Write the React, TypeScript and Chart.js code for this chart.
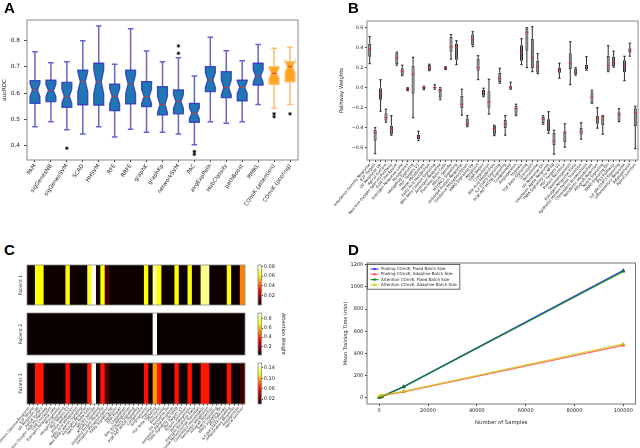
import React, { useEffect, useRef } from 'react';
import { Chart, registerables } from 'chart.js';

Chart.register(...registerables);

const FONT = '"DejaVu Sans", "Noto Sans", sans-serif';

// ================= Panel A : aucROC box plots =================
const aMethods = ['PAM', 'sigGenesNB', 'sigGenesSVM', 'SCAD', 'HHSVM', 'RFE', 'RRFE', 'graphK', 'graphKp', 'networkSVM', 'PAC', 'avgExpPath', 'HubClassify', 'pathBoost', 'PIMKL', 'COmiK (attention)', 'COmiK (pooling)'];
const aLow = [0.472, 0.491, 0.460, 0.444, 0.472, 0.433, 0.462, 0.451, 0.451, 0.444, 0.403, 0.491, 0.485, 0.491, 0.557, 0.542, 0.557];
const aQ1 = [0.561, 0.568, 0.546, 0.555, 0.554, 0.533, 0.559, 0.549, 0.517, 0.521, 0.489, 0.606, 0.583, 0.571, 0.631, 0.634, 0.643];
const aMed = [0.612, 0.610, 0.588, 0.644, 0.643, 0.588, 0.635, 0.587, 0.557, 0.568, 0.523, 0.650, 0.621, 0.622, 0.665, 0.676, 0.701];
const aQ3 = [0.648, 0.650, 0.641, 0.688, 0.714, 0.634, 0.688, 0.644, 0.625, 0.612, 0.561, 0.701, 0.682, 0.650, 0.714, 0.701, 0.720];
const aHigh = [0.758, 0.716, 0.720, 0.800, 0.856, 0.710, 0.846, 0.761, 0.720, 0.735, 0.665, 0.813, 0.762, 0.724, 0.786, 0.771, 0.775];
const aOutlierMethods = ['sigGenesSVM', 'networkSVM', 'networkSVM', 'PAC', 'PAC', 'COmiK (attention)', 'COmiK (attention)', 'COmiK (pooling)'];
const aOutlierValues = [0.390, 0.780, 0.752, 0.377, 0.367, 0.521, 0.510, 0.521];
const aYTicks = [0.4, 0.5, 0.6, 0.7, 0.8];
const aSampleN = 30;

// ================= Panel B : pathway weights =================
const bPathways = ['Interferon Gamma Response', 'E2F Targets', 'UV Response Up', 'Apical Surface', 'Reactive Oxygen Species Pathway', 'G2M Checkpoint', 'Estrogen Response Late', 'Myogenesis', 'Hedgehog Signaling', 'Myc Targets V1', 'Heme Metabolism', 'Fatty Acid Metabolism', 'Wnt Beta Catenin Signaling', 'Androgen Response', 'Pancreas Beta Cells', 'Mitotic Spindle', 'MTORC1 Signaling', 'Unfolded Protein Response', 'Oxidative Phosphorylation', 'KRAS Signaling Up', 'Apoptosis', 'DNA Repair', 'Coagulation', 'Bile Acid Metabolism', 'IL2 STAT5 Signaling', 'PI3K AKT MTOR Signaling', 'Complement', 'Angiogenesis', 'Hypoxia', 'TGF Beta Signaling', 'Glycolysis', 'Peroxisome', 'UV Response Dn', 'Interferon Alpha Response', 'TNFA Signaling via NFKB', 'Myc Targets V2', 'Protein Secretion', 'Spermatogenesis', 'Estrogen Response Early', 'Epithelial Mesenchymal Transition', 'Cholesterol Homeostasis', 'Xenobiotic Metabolism', 'Allograft Rejection', 'Notch Signaling', 'KRAS Signaling Dn', 'P53 Pathway', 'IL6 JAK STAT3 Signaling', 'Inflammatory Response', 'Adipogenesis', 'Apical Junction'];
const bLow = [0.24, -0.66, -0.235, -0.345, -0.475, 0.225, 0.12, -0.03, -0.30, -0.53, -0.02, 0.17, -0.015, -0.12, 0.18, 0.285, 0.23, -0.275, -0.39, 0.41, 0.08, -0.09, -0.265, -0.48, 0.045, -0.475, -0.015, -0.28, 0.23, 0.20, 0.16, 0.14, -0.365, -0.455, -0.665, 0.095, -0.595, 0.03, 0.125, -0.515, 0.175, -0.155, -0.405, -0.465, 0.16, 0.205, -0.34, 0.07, 0.315, -0.61];
const bQ1 = [0.31, -0.53, -0.12, -0.33, -0.465, 0.235, 0.13, -0.025, -0.06, -0.515, -0.015, 0.175, -0.005, -0.10, 0.185, 0.36, 0.28, -0.205, -0.38, 0.425, 0.17, -0.08, -0.20, -0.47, 0.055, -0.405, -0.01, -0.27, 0.27, 0.37, 0.195, 0.15, -0.355, -0.435, -0.575, 0.15, -0.545, 0.185, 0.135, -0.47, 0.185, -0.15, -0.36, -0.375, 0.17, 0.215, -0.33, 0.155, 0.35, -0.385];
const bMed = [0.385, -0.45, -0.055, -0.30, -0.41, 0.30, 0.165, -0.013, 0.135, -0.49, 0.0, 0.205, 0.003, -0.03, 0.195, 0.41, 0.40, -0.165, -0.365, 0.48, 0.20, -0.045, -0.145, -0.41, 0.09, -0.36, 0.005, -0.21, 0.35, 0.555, 0.30, 0.21, -0.315, -0.365, -0.535, 0.175, -0.45, 0.245, 0.155, -0.44, 0.21, -0.095, -0.31, -0.29, 0.22, 0.25, -0.27, 0.22, 0.375, -0.25];
const bQ3 = [0.44, -0.42, 0.0, -0.255, -0.38, 0.345, 0.195, -0.005, 0.22, -0.47, 0.01, 0.23, 0.01, -0.01, 0.205, 0.51, 0.44, -0.08, -0.305, 0.535, 0.29, -0.02, -0.035, -0.38, 0.15, -0.32, 0.015, -0.18, 0.425, 0.595, 0.49, 0.27, -0.29, -0.315, -0.45, 0.20, -0.435, 0.345, 0.19, -0.40, 0.23, -0.045, -0.28, -0.285, 0.32, 0.31, -0.245, 0.275, 0.395, -0.205];
const bHigh = [0.51, -0.40, 0.08, -0.215, -0.28, 0.355, 0.225, 0.0, 0.305, -0.435, 0.015, 0.235, 0.03, 0.0, 0.21, 0.53, 0.47, -0.015, -0.28, 0.56, 0.32, -0.005, 0.085, -0.375, 0.195, -0.28, 0.055, -0.165, 0.49, 0.60, 0.61, 0.34, -0.28, -0.24, -0.425, 0.245, -0.36, 0.46, 0.20, -0.35, 0.31, -0.025, -0.20, -0.28, 0.42, 0.365, -0.21, 0.315, 0.445, -0.185];
const bYTicks = [-0.6, -0.4, -0.2, 0.0, 0.2, 0.4, 0.6];

// ================= Panel C : attention heatmaps =================
const cPathways = bPathways;
const cPatient1 = [0.001, 0.001, 0.063, 0.063, 0.001, 0.001, 0.001, 0.001, 0.001, 0.062, 0.001, 0.001, 0.001, 0.001, 0.065, 0.083, 0.001, 0.063, 0.008, 0.001, 0.001, 0.001, 0.001, 0.001, 0.001, 0.001, 0.001, 0.062, 0.001, 0.074, 0.063, 0.001, 0.001, 0.001, 0.062, 0.001, 0.001, 0.063, 0.001, 0.001, 0.073, 0.074, 0.001, 0.001, 0.001, 0.001, 0.063, 0.001, 0.001, 0.047];
const cPatient2 = [0.002, 0.002, 0.002, 0.002, 0.002, 0.002, 0.002, 0.002, 0.002, 0.002, 0.002, 0.002, 0.002, 0.002, 0.002, 0.002, 0.002, 0.002, 0.002, 0.002, 0.002, 0.002, 0.002, 0.002, 0.002, 0.002, 0.002, 0.002, 0.002, 0.93, 0.002, 0.002, 0.002, 0.002, 0.002, 0.002, 0.002, 0.002, 0.002, 0.002, 0.002, 0.002, 0.002, 0.002, 0.002, 0.002, 0.002, 0.002, 0.002, 0.002];
const cPatient3 = [0.001, 0.001, 0.064, 0.064, 0.001, 0.001, 0.001, 0.001, 0.001, 0.062, 0.001, 0.001, 0.001, 0.001, 0.066, 0.159, 0.001, 0.063, 0.015, 0.001, 0.001, 0.001, 0.001, 0.001, 0.001, 0.001, 0.001, 0.063, 0.001, 0.095, 0.064, 0.001, 0.001, 0.001, 0.063, 0.001, 0.001, 0.063, 0.001, 0.001, 0.064, 0.064, 0.001, 0.001, 0.001, 0.001, 0.063, 0.001, 0.001, 0.012];
const cPatientNames = ['Patient 1', 'Patient 2', 'Patient 3'];
const cRange1 = [0.0005, 0.083];
const cRange2 = [0.01, 0.93];
const cRange3 = [0.001, 0.159];
const cTicks1 = [0.02, 0.04, 0.06, 0.08];
const cTicks2 = [0.2, 0.4, 0.6, 0.8];
const cTicks3 = [0.02, 0.06, 0.10, 0.14];

// ================= Panel D : training time =================
const dSamples = [100, 1000, 10000, 100000];
const dPoolFixed = [4, 12, 101, 1148];
const dPoolAdaptive = [6, 19, 55, 474];
const dAttFixed = [5, 11, 100, 1140];
const dAttAdaptive = [16, 24, 58, 486];
const dSeriesNames = ['Pooling COmiK, Fixed Batch Size', 'Pooling COmiK, Adaptive Batch Size', 'Attention COmiK, Fixed Batch Size', 'Attention COmiK, Adaptive Batch Size'];
const dXTicks = [0, 20000, 40000, 60000, 80000, 100000];
const dYTicks = [0, 200, 400, 600, 800, 1000, 1200];

// ---------- helpers ----------
function hot(t: number): string {
  const c = (v: number) => Math.max(0, Math.min(1, v));
  const x = c(t);
  const r = c(0.0416 + x * (1 - 0.0416) / 0.365);
  const g = c((x - 0.365) / (0.746 - 0.365));
  const b = c((x - 0.746) / (1 - 0.746));
  return `rgb(${Math.round(r * 255)},${Math.round(g * 255)},${Math.round(b * 255)})`;
}

function framePlugin(color: string, width = 1) {
  return {
    id: 'frame',
    afterDraw(chart: any) {
      const { ctx, chartArea } = chart;
      ctx.save();
      ctx.strokeStyle = color;
      ctx.lineWidth = width;
      ctx.strokeRect(chartArea.left, chartArea.top, chartArea.right - chartArea.left, chartArea.bottom - chartArea.top);
      ctx.restore();
    },
  };
}

type BoxStyle = { fill: string; edge: string; edgeWidth: number; whisker: string; whiskerWidth: number; median: string; medianWidth: number };

function boxPlugin(o: { low: number[]; q1: number[]; med: number[]; q3: number[]; high: number[]; widthFrac: number; capFrac: number; notchN: number; drawBox: boolean; style: (i: number) => BoxStyle }) {
  return {
    id: 'boxes',
    afterDatasetsDraw(chart: any) {
      const ctx = chart.ctx;
      const xs = chart.scales.x;
      const ys = chart.scales.y;
      const band = Math.abs(xs.getPixelForValue(1) - xs.getPixelForValue(0));
      const ca = chart.chartArea;
      ctx.save();
      ctx.beginPath();
      ctx.rect(ca.left, ca.top, ca.right - ca.left, ca.bottom - ca.top);
      ctx.clip();
      o.med.forEach((m, i) => {
        const s = o.style(i);
        const cx = xs.getPixelForValue(i);
        const hw = (band * o.widthFrac) / 2;
        const cw = (band * o.capFrac) / 2;
        const yLo = ys.getPixelForValue(o.low[i]);
        const yQ1 = ys.getPixelForValue(o.q1[i]);
        const yMed = ys.getPixelForValue(m);
        const yQ3 = ys.getPixelForValue(o.q3[i]);
        const yHi = ys.getPixelForValue(o.high[i]);
        ctx.lineCap = 'butt';
        ctx.strokeStyle = s.whisker;
        ctx.lineWidth = s.whiskerWidth;
        ctx.beginPath();
        ctx.moveTo(cx, yQ1); ctx.lineTo(cx, yLo);
        ctx.moveTo(cx, yQ3); ctx.lineTo(cx, yHi);
        ctx.moveTo(cx - cw, yLo); ctx.lineTo(cx + cw, yLo);
        ctx.moveTo(cx - cw, yHi); ctx.lineTo(cx + cw, yHi);
        ctx.stroke();
        let mw = hw;
        if (o.drawBox) {
          ctx.beginPath();
          if (o.notchN > 0) {
            const nh = (1.57 * (o.q3[i] - o.q1[i])) / Math.sqrt(o.notchN);
            const nLo = ys.getPixelForValue(m - nh);
            const nHi = ys.getPixelForValue(m + nh);
            mw = hw / 2;
            ctx.moveTo(cx - hw, yQ1); ctx.lineTo(cx + hw, yQ1); ctx.lineTo(cx + hw, nLo);
            ctx.lineTo(cx + mw, yMed); ctx.lineTo(cx + hw, nHi); ctx.lineTo(cx + hw, yQ3);
            ctx.lineTo(cx - hw, yQ3); ctx.lineTo(cx - hw, nHi); ctx.lineTo(cx - mw, yMed);
            ctx.lineTo(cx - hw, nLo); ctx.closePath();
          } else {
            ctx.rect(cx - hw, yQ3, 2 * hw, yQ1 - yQ3);
          }
          ctx.fillStyle = s.fill;
          ctx.fill();
          ctx.strokeStyle = s.edge;
          ctx.lineWidth = s.edgeWidth;
          ctx.stroke();
        }
        ctx.strokeStyle = s.median;
        ctx.lineWidth = s.medianWidth;
        ctx.beginPath();
        ctx.moveTo(cx - mw, yMed); ctx.lineTo(cx + mw, yMed);
        ctx.stroke();
      });
      ctx.restore();
    },
  };
}

const dLegendPlugin = {
  id: 'dlegend',
  afterDraw(chart: any) {
    const { ctx, chartArea } = chart;
    const left = chartArea.left + 0.5;
    const top = chartArea.top + 1.5;
    const rowH = 5.3;
    const fs = 4;
    ctx.save();
    ctx.font = `${fs}px ${FONT}`;
    const ds = chart.data.datasets;
    let maxW = 0;
    ds.forEach((d: any) => { maxW = Math.max(maxW, ctx.measureText(d.label).width); });
    const w = 13.5 + maxW + 3;
    const h = rowH * ds.length + 3.5;
    ctx.fillStyle = 'rgba(255,255,255,0.85)';
    ctx.fillRect(left, top, w, h);
    ctx.strokeStyle = '#444';
    ctx.lineWidth = 0.8;
    ctx.strokeRect(left, top, w, h);
    ds.forEach((d: any, i: number) => {
      const y = top + 4.5 + i * rowH;
      ctx.strokeStyle = d.borderColor;
      ctx.lineWidth = 1.2;
      ctx.beginPath();
      ctx.moveTo(left + 3, y); ctx.lineTo(left + 11, y);
      ctx.stroke();
      ctx.fillStyle = d.borderColor;
      ctx.beginPath();
      ctx.arc(left + 7, y, 1.3, 0, Math.PI * 2);
      ctx.fill();
      ctx.fillStyle = '#222';
      ctx.textBaseline = 'middle';
      ctx.textAlign = 'left';
      ctx.fillText(d.label, left + 13.5, y);
    });
    ctx.restore();
  },
};

const fixedTicks = (vals: number[]) => (s: any) => { s.ticks = vals.map((v) => ({ value: v })); };
const fmt = (d: number) => (v: any) => {
  const n = Number(v);
  const t = Math.abs(n).toFixed(d);
  return n < -1e-9 ? '\u2212' + t : t;
};

function heatmapConfig(values: number[], range: number[], name: string, showX: boolean) {
  const xScale: any = {
    display: showX,
    offset: true,
    grid: { display: true, drawOnChartArea: false, offset: false, tickLength: 1.5, color: '#444' },
    border: { display: false },
    ticks: { autoSkip: false, minRotation: 50, maxRotation: 50, padding: 0.5, font: { size: 3.6, family: FONT }, color: '#222' },
  };
  if (showX) {
    xScale.afterFit = (s: any) => { s.height = 44; s.paddingLeft = 0; s.paddingRight = 0; };
  }
  const colorOf = (c: any) => {
    const v = c.raw ? c.raw.v : 0;
    return hot((v - range[0]) / (range[1] - range[0]));
  };
  return {
    type: 'bar',
    data: {
      labels: cPathways,
      datasets: [{
        data: values.map((v, i) => ({ x: cPathways[i], y: 1, v })),
        backgroundColor: colorOf,
        borderWidth: 0,
        inflateAmount: 0.8,
        barPercentage: 1,
        categoryPercentage: 1,
      }],
    },
    options: {
      animation: false, responsive: false, events: [],
      layout: { padding: { left: 0, top: 5, right: 5, bottom: showX ? 0 : 5 } },
      plugins: { legend: { display: false }, tooltip: { enabled: false } },
      scales: {
        x: xScale,
        y: {
          min: 0, max: 1,
          ticks: { display: false },
          grid: { display: false },
          border: { display: false },
          title: { display: true, text: name, font: { size: 4.6, family: FONT }, color: '#222', padding: { top: 17.8, bottom: 0 } },
          afterFit: (s: any) => { s.width = 27; s.paddingTop = 0; s.paddingBottom = 0; },
        },
      },
    },
    plugins: [framePlugin('#888', 0.8)],
  };
}

function colorbarConfig(range: number[], ticks: number[], digits: number, title: string) {
  return {
    type: 'bar',
    data: {
      labels: [''],
      datasets: [{
        data: [[range[0], range[1]]],
        backgroundColor: (c: any) => {
          const ch = c.chart;
          const ca = ch.chartArea;
          if (!ca) return '#000';
          const g = ch.ctx.createLinearGradient(0, ca.bottom, 0, ca.top);
          [0, 0.365, 0.746, 1].forEach((t) => g.addColorStop(t, hot(t)));
          return g;
        },
        borderWidth: 0,
        borderSkipped: false,
        barPercentage: 1,
        categoryPercentage: 1,
      }],
    },
    options: {
      animation: false, responsive: false, events: [],
      layout: { padding: { left: 8, top: 5, right: 0, bottom: 5 } },
      plugins: { legend: { display: false }, tooltip: { enabled: false } },
      scales: {
        x: { display: false },
        y: {
          position: 'right',
          min: range[0], max: range[1],
          afterBuildTicks: fixedTicks(ticks),
          ticks: { callback: fmt(digits), padding: 0.8, font: { size: 5, family: FONT }, color: '#222' },
          grid: { display: true, drawOnChartArea: false, tickLength: 1.5, color: '#444' },
          border: { display: false },
          title: { display: title !== '', text: title, font: { size: 5, family: FONT }, color: '#222', padding: { top: 3.5, bottom: 0 } },
          afterFit: (s: any) => { s.width = 28.5; s.paddingTop = 0; s.paddingBottom = 0; },
        },
      },
    },
    plugins: [framePlugin('#888', 0.8)],
  };
}

export default function App() {
  const aRef = useRef<HTMLCanvasElement>(null);
  const bRef = useRef<HTMLCanvasElement>(null);
  const c1Ref = useRef<HTMLCanvasElement>(null);
  const c2Ref = useRef<HTMLCanvasElement>(null);
  const c3Ref = useRef<HTMLCanvasElement>(null);
  const cb1Ref = useRef<HTMLCanvasElement>(null);
  const cb2Ref = useRef<HTMLCanvasElement>(null);
  const cb3Ref = useRef<HTMLCanvasElement>(null);
  const dRef = useRef<HTMLCanvasElement>(null);

  useEffect(() => {
    Chart.defaults.font.family = FONT;
    Chart.defaults.color = '#222';
    const charts: any[] = [];

    // ---- A ----
    const aStyle = (i: number): BoxStyle => {
      const orange = aMethods[i].startsWith('COmiK');
      return orange
        ? { fill: '#ffa51f', edge: 'rgba(255,190,110,0.95)', edgeWidth: 1.3, whisker: 'rgba(255,180,90,0.9)', whiskerWidth: 1.5, median: '#b8452a', medianWidth: 1 }
        : { fill: '#1f77b4', edge: 'rgba(50,50,190,0.85)', edgeWidth: 1.3, whisker: 'rgba(50,50,195,0.75)', whiskerWidth: 1.5, median: '#b8452a', medianWidth: 1 };
    };
    charts.push(new Chart(aRef.current as any, {
      type: 'bar',
      data: {
        labels: aMethods,
        datasets: [{
          type: 'scatter',
          data: aOutlierMethods.map((m, i) => ({ x: m, y: aOutlierValues[i] })),
          pointStyle: 'star',
          radius: 1.8,
          borderWidth: 0.9,
          borderColor: '#111',
          backgroundColor: '#111',
        } as any],
      },
      options: {
        animation: false, responsive: false, events: [],
        layout: { padding: { left: 0, top: 20, right: 22, bottom: 0 } },
        plugins: { legend: { display: false }, tooltip: { enabled: false } },
        scales: {
          x: {
            type: 'category', offset: true,
            grid: { display: true, drawOnChartArea: false, offset: false, tickLength: 2, color: '#444' },
            border: { display: false },
            ticks: { autoSkip: false, minRotation: 55, maxRotation: 55, padding: 1, font: { size: 5.5, family: FONT }, color: '#222' },
            afterFit: (s: any) => { s.height = 64; s.paddingLeft = 0; s.paddingRight = 0; },
          },
          y: {
            min: 0.345, max: 0.879,
            afterBuildTicks: fixedTicks(aYTicks),
            ticks: { callback: fmt(1), padding: 4, font: { size: 5.8, family: FONT }, color: '#222' },
            grid: { display: true, drawOnChartArea: false, tickLength: 3, color: '#444' },
            border: { display: false },
            title: { display: true, text: 'aucROC', font: { size: 5.5, family: FONT }, color: '#222', padding: { top: 1.2, bottom: 0 } },
            afterFit: (s: any) => { s.width = 27; },
          },
        },
      } as any,
      plugins: [boxPlugin({ low: aLow, q1: aQ1, med: aMed, q3: aQ3, high: aHigh, widthFrac: 0.62, capFrac: 0.35, notchN: aSampleN, drawBox: true, style: aStyle }), framePlugin('#888', 1)],
    } as any));

    // ---- B ----
    const bStyle = (): BoxStyle => ({ fill: '#888', edge: '#333', edgeWidth: 0.8, whisker: '#111', whiskerWidth: 0.9, median: '#e8231a', medianWidth: 0.9 });
    charts.push(new Chart(bRef.current as any, {
      type: 'bar',
      data: {
        labels: bPathways,
        datasets: [{
          data: bQ1.map((q, i) => [q, bQ3[i]]),
          backgroundColor: '#787878',
          borderColor: '#222',
          borderWidth: 1,
          borderSkipped: false,
          barPercentage: 0.56,
          categoryPercentage: 1,
        }],
      },
      options: {
        animation: false, responsive: false, events: [],
        layout: { padding: { left: 0, top: 21, right: 2, bottom: 0 } },
        plugins: { legend: { display: false }, tooltip: { enabled: false } },
        scales: {
          x: {
            offset: true,
            grid: { display: true, drawOnChartArea: false, offset: false, tickLength: 2, color: '#444' },
            border: { display: false },
            ticks: { autoSkip: false, minRotation: 50, maxRotation: 50, padding: 0.5, font: { size: 3.8, family: FONT }, color: '#222' },
            afterFit: (s: any) => { s.height = 64; s.paddingLeft = 0; s.paddingRight = 0; },
          },
          y: {
            min: -0.723, max: 0.667,
            afterBuildTicks: fixedTicks(bYTicks),
            ticks: { callback: fmt(1), padding: 1.7, font: { size: 4.8, family: FONT }, color: '#222' },
            grid: { display: true, drawOnChartArea: false, tickLength: 2, color: '#444' },
            border: { display: false },
            title: { display: true, text: 'Pathway Weights', font: { size: 5.3, family: FONT }, color: '#222', padding: { top: 18.8, bottom: 0 } },
            afterFit: (s: any) => { s.width = 47; },
          },
        },
      } as any,
      plugins: [boxPlugin({ low: bLow, q1: bQ1, med: bMed, q3: bQ3, high: bHigh, widthFrac: 0.56, capFrac: 0.45, notchN: 0, drawBox: false, style: bStyle }), framePlugin('#888', 1)],
    } as any));

    // ---- C ----
    charts.push(new Chart(c1Ref.current as any, heatmapConfig(cPatient1, cRange1, cPatientNames[0], false) as any));
    charts.push(new Chart(c2Ref.current as any, heatmapConfig(cPatient2, cRange2, cPatientNames[1], false) as any));
    charts.push(new Chart(c3Ref.current as any, heatmapConfig(cPatient3, cRange3, cPatientNames[2], true) as any));
    charts.push(new Chart(cb1Ref.current as any, colorbarConfig(cRange1, cTicks1, 2, '') as any));
    charts.push(new Chart(cb2Ref.current as any, colorbarConfig(cRange2, cTicks2, 1, 'Attention Weight') as any));
    charts.push(new Chart(cb3Ref.current as any, colorbarConfig(cRange3, cTicks3, 2, '') as any));

    // ---- D ----
    const dColors = ['rgba(40,40,255,0.85)', 'rgba(255,50,50,0.7)', 'rgba(0,128,0,0.8)', 'rgba(200,200,0,0.75)'];
    const dSeries = [dPoolFixed, dPoolAdaptive, dAttFixed, dAttAdaptive];
    const dOrder = [4, 3, 2, 1];
    charts.push(new Chart(dRef.current as any, {
      type: 'line',
      data: {
        datasets: dSeries.map((ser, k) => ({
          label: dSeriesNames[k],
          data: ser.map((v, i) => ({ x: dSamples[i], y: v })),
          borderColor: dColors[k],
          backgroundColor: dColors[k],
          borderWidth: 1.3,
          pointStyle: 'triangle',
          pointRadius: 2,
          pointBorderWidth: 0.5,
          order: dOrder[k],
          tension: 0,
        })),
      },
      options: {
        animation: false, responsive: false, events: [],
        layout: { padding: { left: 0, top: 39, right: 1, bottom: 0 } },
        plugins: { legend: { display: false }, tooltip: { enabled: false } },
        scales: {
          x: {
            type: 'linear', min: -5000, max: 105000,
            afterBuildTicks: fixedTicks(dXTicks),
            ticks: { callback: (v: any) => String(v), padding: 2, maxRotation: 0, font: { size: 5, family: FONT }, color: '#222' },
            grid: { display: true, drawOnChartArea: false, tickLength: 2, color: '#444' },
            border: { display: false },
            title: { display: true, text: 'Number of Samples', font: { size: 5.3, family: FONT }, color: '#222', padding: { top: 0, bottom: 21.8 } },
            afterFit: (s: any) => { s.height = 44; s.paddingLeft = 0; s.paddingRight = 0; },
          },
          y: {
            type: 'linear', min: -55, max: 1215,
            afterBuildTicks: fixedTicks(dYTicks),
            ticks: { callback: (v: any) => String(v), padding: 1.7, font: { size: 5, family: FONT }, color: '#222' },
            grid: { display: true, drawOnChartArea: false, tickLength: 2, color: '#444' },
            border: { display: false },
            title: { display: true, text: 'Mean Training Time (min)', font: { size: 5, family: FONT }, color: '#222', padding: { top: 23, bottom: 0 } },
            afterFit: (s: any) => { s.width = 47; },
          },
        },
      } as any,
      plugins: [framePlugin('#777', 1), dLegendPlugin],
    } as any));

    return () => { charts.forEach((c) => c.destroy()); };
  }, []);

  const cv = (left: number, top: number, w: number, h: number): React.CSSProperties => ({ position: 'absolute', left, top, width: w, height: h });
  const letter = (left: number, top: number): React.CSSProperties => ({ position: 'absolute', left, top, margin: 0, font: 'bold 15px "Liberation Sans", Arial, sans-serif', lineHeight: '15px', color: '#000' });

  return (
    <div style={{ position: 'absolute', left: 0, top: 0, width: 640, height: 448, background: '#fff', overflow: 'hidden' }}>
      <canvas ref={aRef} width={320} height={224} style={cv(0, 0, 320, 224)} />
      <canvas ref={bRef} width={320} height={224} style={cv(320, 0, 320, 224)} />
      <canvas ref={c1Ref} width={250} height={50} style={cv(0, 260, 250, 50)} />
      <canvas ref={c2Ref} width={250} height={52} style={cv(0, 308, 250, 52)} />
      <canvas ref={c3Ref} width={250} height={90} style={cv(0, 358, 250, 90)} />
      <canvas ref={cb1Ref} width={40} height={50} style={cv(250, 260, 40, 50)} />
      <canvas ref={cb2Ref} width={40} height={52} style={cv(250, 308, 40, 52)} />
      <canvas ref={cb3Ref} width={40} height={51} style={cv(250, 358, 40, 51)} />
      <canvas ref={dRef} width={320} height={224} style={cv(320, 224, 320, 224)} />
      <div style={letter(4, 0)}>A</div>
      <div style={letter(348, 0)}>B</div>
      <div style={letter(4, 242)}>C</div>
      <div style={letter(348, 242)}>D</div>
    </div>
  );
}
